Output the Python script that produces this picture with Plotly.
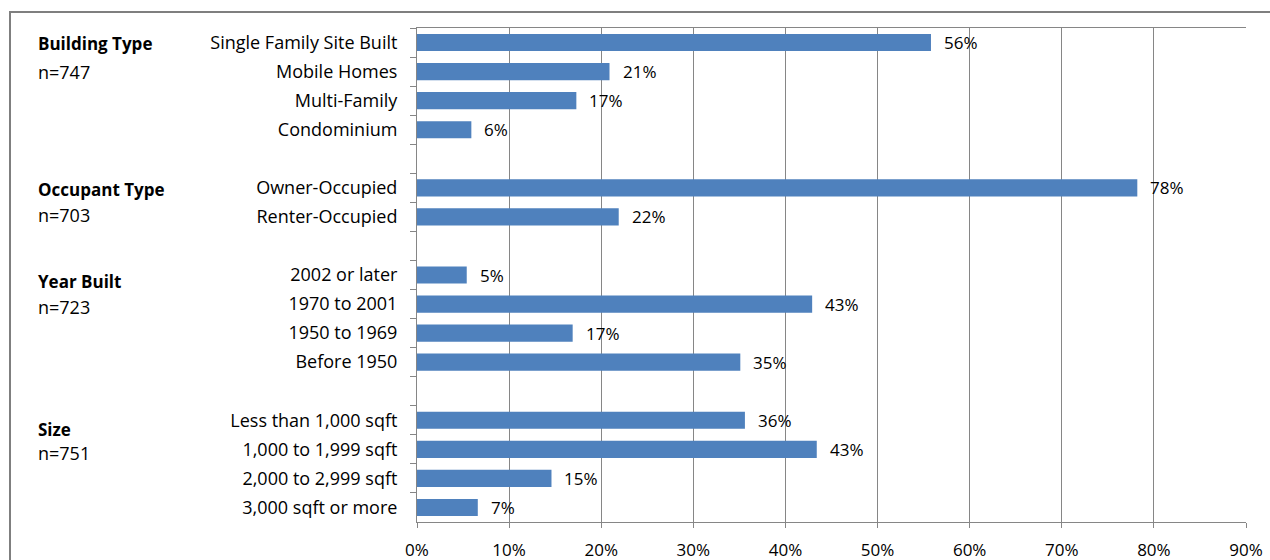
import plotly.graph_objects as go

# --- data -------------------------------------------------------------
group_names = ["Building Type", "Occupant Type", "Year Built", "Size"]
group_sizes = [747, 703, 723, 751]

building_type_cats = ["Single Family Site Built", "Mobile Homes", "Multi-Family", "Condominium"]
building_type_vals = [55.8, 20.9, 17.3, 5.9]

occupant_type_cats = ["Owner-Occupied", "Renter-Occupied"]
occupant_type_vals = [78.2, 21.9]

year_built_cats = ["2002 or later", "1970 to 2001", "1950 to 1969", "Before 1950"]
year_built_vals = [5.4, 42.9, 16.9, 35.1]

size_cats = ["Less than 1,000 sqft", "1,000 to 1,999 sqft", "2,000 to 2,999 sqft", "3,000 sqft or more"]
size_vals = [35.6, 43.4, 14.6, 6.6]

x_ticks = [0, 10, 20, 30, 40, 50, 60, 70, 80, 90]

# --- build category list with blank spacer rows between groups ---------
group_cats = [building_type_cats, occupant_type_cats, year_built_cats, size_cats]
group_vals = [building_type_vals, occupant_type_vals, year_built_vals, size_vals]

categories, values = [], []
first_index = []
for gi, (cats, vals) in enumerate(zip(group_cats, group_vals)):
    if gi > 0:
        categories.append(" " * gi)   # unique blank spacer
        values.append(None)
    first_index.append(len(categories))
    categories.extend(cats)
    values.extend(vals)

# --- geometry ----------------------------------------------------------
W, H = 1270, 560
ML, MR, MT, MB = 417, 24, 28, 38
PW, PH = W - ML - MR, H - MT - MB


def px_x(px):
    return (px - ML) / PW


def px_y(py):
    return (H - MB - py) / PH


FONT = "Open Sans"
LABEL_SIZE = 18
TITLE_SIZE = 17
VALUE_SIZE = 17
GRID = "#868686"
BLUE = "#4F81BD"

fig = go.Figure()
fig.add_trace(go.Bar(
    x=values, y=categories, orientation="h",
    marker=dict(color=BLUE, line=dict(width=0)),
    hoverinfo="skip",
))

annotations = []
# value labels to the right of each bar
for c, v in zip(categories, values):
    if v is None:
        continue
    annotations.append(dict(
        x=v, y=c, xref="x", yref="y", text=f"{v:.0f}%",
        showarrow=False, xanchor="left", xshift=11,
        font=dict(family=FONT, size=VALUE_SIZE, color="black"),
    ))

# group titles and sample sizes on the far left
title_offsets = [(0.03, 1.0), (0.07, 0.93), (0.24, 1.1), (0.31, 1.14)]
for name, n, start, (o1, o2) in zip(group_names, group_sizes, first_index, title_offsets):
    annotations.append(dict(
        x=px_x(36), xref="paper", y=start + o1, yref="y",
        text=f"<b>{name}</b>", showarrow=False, xanchor="left",
        font=dict(family=FONT, size=TITLE_SIZE, color="black"),
    ))
    annotations.append(dict(
        x=px_x(36), xref="paper", y=start + o2, yref="y",
        text=f"n={n}", showarrow=False, xanchor="left",
        font=dict(family=FONT, size=LABEL_SIZE, color="black"),
    ))

fig.update_layout(
    width=W, height=H,
    margin=dict(l=ML, r=MR, t=MT, b=MB, pad=0, autoexpand=False),
    paper_bgcolor="white", plot_bgcolor="white",
    showlegend=False,
    bargap=0.41,
    font=dict(family=FONT, size=LABEL_SIZE, color="black"),
    annotations=annotations,
    shapes=[dict(
        type="rect", xref="paper", yref="paper",
        x0=px_x(10), x1=px_x(W + 20), y0=px_y(H + 20), y1=px_y(12),
        line=dict(color="#7F7F7F", width=2), fillcolor="rgba(0,0,0,0)",
        layer="below",
    )],
    xaxis=dict(
        range=[0, 90], tickvals=x_ticks, ticktext=[f"{t}%" for t in x_ticks],
        showgrid=True, gridcolor=GRID, gridwidth=1,
        showline=True, linecolor=GRID, linewidth=1, mirror=True,
        ticks="outside", ticklen=5, tickcolor=GRID,
        ticklabelstandoff=8, zeroline=False, automargin=False,
        tickfont=dict(family=FONT, size=VALUE_SIZE, color="black"),
    ),
    yaxis=dict(
        type="category", categoryorder="array", categoryarray=categories,
        range=[len(categories) - 0.5, -0.5],
        showgrid=False, showline=True, linecolor=GRID, linewidth=1,
        ticks="outside", tickson="boundaries", ticklen=6, tickcolor=GRID,
        ticklabelstandoff=15, automargin=False,
        tickfont=dict(family=FONT, size=LABEL_SIZE, color="black"),
    ),
)

fig.write_html("out.html")
